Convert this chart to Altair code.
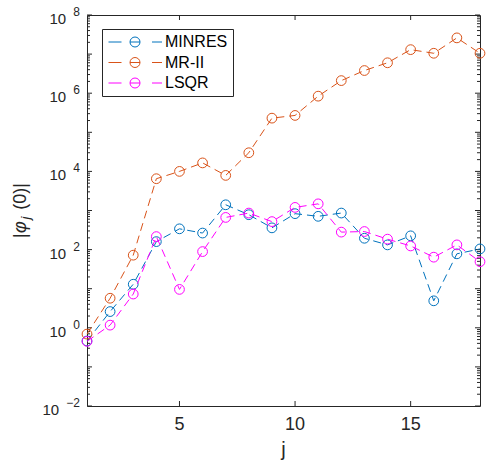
import altair as alt
import pandas as pd

# ---- data ----
j = list(range(1, 19))
series_names = ["MINRES", "MR-II", "LSQR"]
series_colors = ["#0072BD", "#D95319", "#FF00FF"]
minres = [0.46, 2.6, 13, 160, 340, 265, 1400, 780, 360, 830, 710, 860, 195, 132, 225, 4.9, 78, 104]
mr2 = [0.69, 5.7, 72, 6500, 10000, 16500, 7900, 30000, 230000, 270000, 840000,
       2.1e6, 3.8e6, 6.0e6, 1.3e7, 1.05e7, 2.6e7, 1.05e7]
lsqr = [0.45, 1.17, 7.3, 215, 9.6, 89, 665, 860, 520, 1200, 1480, 280, 290, 185, 124, 64, 132, 49]

y_label_vals = [1e-2, 1e0, 1e2, 1e4, 1e6, 1e8]
y_label_exps = ["\u22122", "0", "2", "4", "6", "8"]
y_major_ticks = [10.0 ** k for k in range(-2, 9)]
y_minor_ticks = [m * 10.0 ** k for k in range(-2, 8) for m in range(2, 10)]
x_tick_vals = [5, 10, 15]
x_tick_labels = ["5", "10", "15"]

W, H = 393, 391
AX = "#262626"
FONT = "Liberation Sans"

rows = []
for name, vals in zip(series_names, [minres, mr2, lsqr]):
    for jj, v in zip(j, vals):
        rows.append({"j": jj, "v": v, "s": name})
df = pd.DataFrame(rows)

xs = alt.Scale(domain=[1, 18], nice=False, zero=False)
ys = alt.Scale(type="log", domain=[0.01, 1e8], nice=False)

legend = alt.Legend(
    title=None, orient="none", legendX=15, legendY=14,
    symbolType="M-5.3,0L-2.7,0M-1,0L1,0M3.4,0L5.4,0M1,0A1,1 0 1,1 -1,0A1,1 0 1,1 1,0",
    symbolSize=100, symbolStrokeWidth=1, symbolFillColor="transparent",
    symbolOffset=20, labelOffset=22,
    labelFont=FONT, labelFontSize=16, labelColor="#000000",
    strokeColor=AX, fillColor="white", padding=5, rowPadding=4.5,
    labelLimit=200,
)
color = alt.Color("s:N", scale=alt.Scale(domain=series_names, range=series_colors), legend=legend)

base = alt.Chart(df).encode(
    x=alt.X("j:Q", scale=xs, axis=None),
    y=alt.Y("v:Q", scale=ys, axis=None),
    color=color,
)

layers = []
for name in series_names:
    b = base.transform_filter(alt.datum.s == name)
    layers.append(b.mark_line(strokeWidth=1, strokeDash=[8, 5]))
    layers.append(b.mark_point(shape="circle", filled=False, size=95, strokeWidth=1, opacity=1))

# ticks (inward)
def yticks(vals, length):
    d = pd.DataFrame({"v": vals})
    c = alt.Chart(d)
    left = c.mark_rule(color=AX, strokeWidth=1).encode(
        y=alt.Y("v:Q", scale=ys, axis=None), x=alt.value(0), x2=alt.value(length))
    right = c.mark_rule(color=AX, strokeWidth=1).encode(
        y=alt.Y("v:Q", scale=ys, axis=None), x=alt.value(W - length), x2=alt.value(W))
    return [left, right]

tick_layers = yticks(y_major_ticks, 5) + yticks(y_minor_ticks, 3)

xt = alt.Chart(pd.DataFrame({"x": x_tick_vals, "t": x_tick_labels}))
tick_layers.append(xt.mark_rule(color=AX, strokeWidth=1).encode(
    x=alt.X("x:Q", scale=xs, axis=None), y=alt.value(H), y2=alt.value(H - 5)))
tick_layers.append(xt.mark_rule(color=AX, strokeWidth=1).encode(
    x=alt.X("x:Q", scale=xs, axis=None), y=alt.value(0), y2=alt.value(5)))

# tick labels
x_labels = xt.mark_text(font=FONT, fontSize=18, color=AX, align="center", baseline="alphabetic").encode(
    x=alt.X("x:Q", scale=xs, axis=None), y=alt.value(H + 24), text="t:N")

yl = alt.Chart(pd.DataFrame({"v": y_label_vals, "e": y_label_exps}))
y_ten = yl.transform_calculate(px="-7 - 6.9*length(datum.e) - 7").mark_text(
    font=FONT, fontSize=15, color=AX, align="right", baseline="alphabetic", dy=9, text="10").encode(
    x=alt.X("px:Q", scale=None, axis=None), y=alt.Y("v:Q", scale=ys, axis=None))
y_exp = yl.mark_text(font=FONT, fontSize=12, color=AX, align="right", baseline="alphabetic", dy=1).encode(
    x=alt.value(-7), y=alt.Y("v:Q", scale=ys, axis=None), text="e:N")

# axis titles
title_df = pd.DataFrame({"k": [0]})
tc = alt.Chart(title_df)
x_title = tc.mark_text(font=FONT, fontSize=20, color=AX, align="center", baseline="alphabetic", text="j").encode(
    x=alt.value(W / 2), y=alt.value(H + 50))
yt_bar1 = tc.mark_text(font=FONT, fontSize=18, color=AX, align="left", baseline="alphabetic", angle=270, text="|").encode(
    x=alt.value(-61), y=alt.value(223))
yt_phi = tc.mark_text(font=FONT, fontSize=18, fontStyle="italic", color=AX, align="left", baseline="alphabetic",
                      angle=270, text="\u03c6").encode(x=alt.value(-61), y=alt.value(218))
yt_j = tc.mark_text(font=FONT, fontSize=13, fontStyle="italic", color=AX, align="center", baseline="alphabetic",
                    angle=270, text="j").encode(x=alt.value(-57), y=alt.value(203))
yt_rest = tc.mark_text(font=FONT, fontSize=18, color=AX, align="right", baseline="alphabetic", angle=270,
                       text="(0)|").encode(x=alt.value(-61), y=alt.value(168))

chart = alt.layer(
    *tick_layers, *layers, x_labels, y_ten, y_exp, x_title, yt_bar1, yt_phi, yt_j, yt_rest
).properties(
    width=W, height=H,
    padding={"left": 87, "top": 15, "right": 10, "bottom": 59},
    autosize=alt.AutoSizeParams(type="none"),
    background="white",
).configure_view(stroke=AX, strokeWidth=1)

chart.save("out.html", embed_options={"renderer": "svg", "actions": False})
